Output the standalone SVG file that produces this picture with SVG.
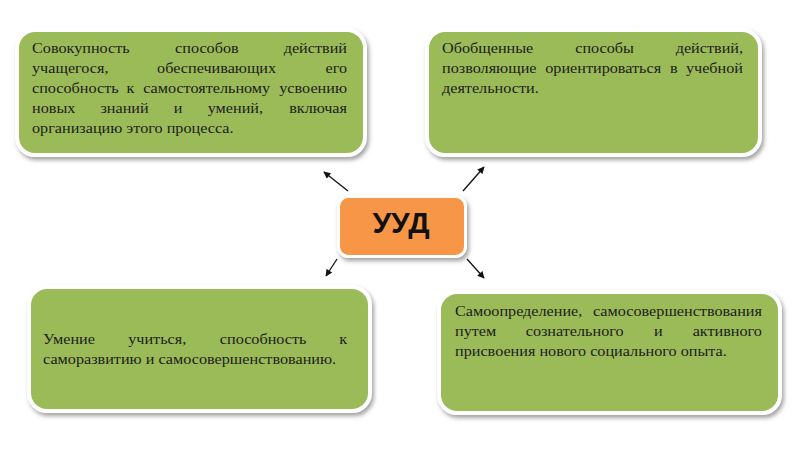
<svg xmlns="http://www.w3.org/2000/svg" width="800" height="450" viewBox="0 0 800 450">
<defs>
<filter id="sh" x="-10%" y="-10%" width="125%" height="130%">
<feDropShadow dx="2" dy="3" stdDeviation="2" flood-color="#7a7a7a" flood-opacity="0.7"/>
</filter>
<marker id="ah" viewBox="0 0 10 10" refX="9" refY="5" markerWidth="8" markerHeight="7" markerUnits="userSpaceOnUse" orient="auto">
<path d="M0,0 L10,5 L0,10 z" fill="#111"/>
</marker>
<style>
.box{fill:#9bbb59;stroke:#fff;stroke-width:4;filter:url(#sh)}
.ctr{fill:#f79646;stroke:#fff;stroke-width:3;filter:url(#sh)}
.t{font-family:"Liberation Serif","Times New Roman",serif;font-size:14.5px;fill:#1c1c1c}
.e{text-anchor:end}
.big{font-family:"Liberation Sans",Arial,sans-serif;font-size:30px;font-weight:bold;fill:#111;text-anchor:middle}
.con{stroke:#111;stroke-width:1.3;fill:none;marker-end:url(#ah)}
</style>
</defs>
<rect width="800" height="450" fill="#fff"/>
<g id="connectors">
<line class="con" x1="348" y1="191" x2="324" y2="172"/>
<line class="con" x1="463" y1="191" x2="484" y2="167"/>
<line class="con" x1="337" y1="259" x2="326" y2="276"/>
<line class="con" x1="467" y1="259" x2="484" y2="278"/>
</g>
<g id="node-top-left">
<rect class="box" x="17" y="30" width="348" height="125" rx="18"/>
<g class="t" transform="translate(32 0) scale(1.117 1)">
<text y="53"><tspan x="0">Совокупность</tspan><tspan x="128.1">способов</tspan></text>
<text class="e" x="282" y="53">действий</text>
<text y="73"><tspan x="0">учащегося,</tspan><tspan x="112">обеспечивающих</tspan></text>
<text class="e" x="282" y="73">его</text>
<text y="93"><tspan x="0">способность</tspan><tspan x="84.6">к</tspan><tspan x="99.5">самостоятельному</tspan></text>
<text class="e" x="282" y="93">усвоению</text>
<text y="113"><tspan x="0">новых</tspan><tspan x="61.3">знаний</tspan><tspan x="127">и</tspan><tspan x="157.3">умений,</tspan></text>
<text class="e" x="282" y="113">включая</text>
<text x="0" y="133">организацию этого процесса.</text>
</g>
</g>
<g id="node-top-right">
<rect class="box" x="427" y="30" width="333" height="125" rx="18"/>
<g class="t" transform="translate(442 0) scale(1.117 1)">
<text y="53"><tspan x="0">Обобщенные</tspan><tspan x="119.3">способы</tspan></text>
<text class="e" x="269.5" y="53">действий,</text>
<text y="73"><tspan x="0">позволяющие</tspan><tspan x="92.4">ориентироваться</tspan><tspan x="204.2">в</tspan></text>
<text class="e" x="269.5" y="73">учебной</text>
<text x="0" y="93">деятельности.</text>
</g>
</g>
<g id="node-center">
<rect class="ctr" x="338.5" y="196.5" width="127" height="60" rx="10"/>
<text class="big" x="401" y="233">УУД</text>
</g>
<g id="node-bottom-left">
<rect class="box" x="29" y="287" width="341" height="124" rx="18"/>
<g class="t" transform="translate(43 0) scale(1.117 1)">
<text y="344"><tspan x="0">Умение</tspan><tspan x="76.3">учиться,</tspan><tspan x="158.3">способность</tspan></text>
<text class="e" x="272.2" y="344">к</text>
<text x="0" y="364">саморазвитию и самосовершенствованию.</text>
</g>
</g>
<g id="node-bottom-right">
<rect class="box" x="439" y="292" width="341" height="121" rx="18"/>
<g class="t" transform="translate(455 0) scale(1.117 1)">
<text x="0" y="316">Самоопределение,</text>
<text class="e" x="274.8" y="316">самосовершенствования</text>
<text y="336"><tspan x="0">путем</tspan><tspan x="63.3">сознательного</tspan><tspan x="178.1">и</tspan></text>
<text class="e" x="274.8" y="336">активного</text>
<text x="0" y="356">присвоения нового социального опыта.</text>
</g>
</g>
</svg>
